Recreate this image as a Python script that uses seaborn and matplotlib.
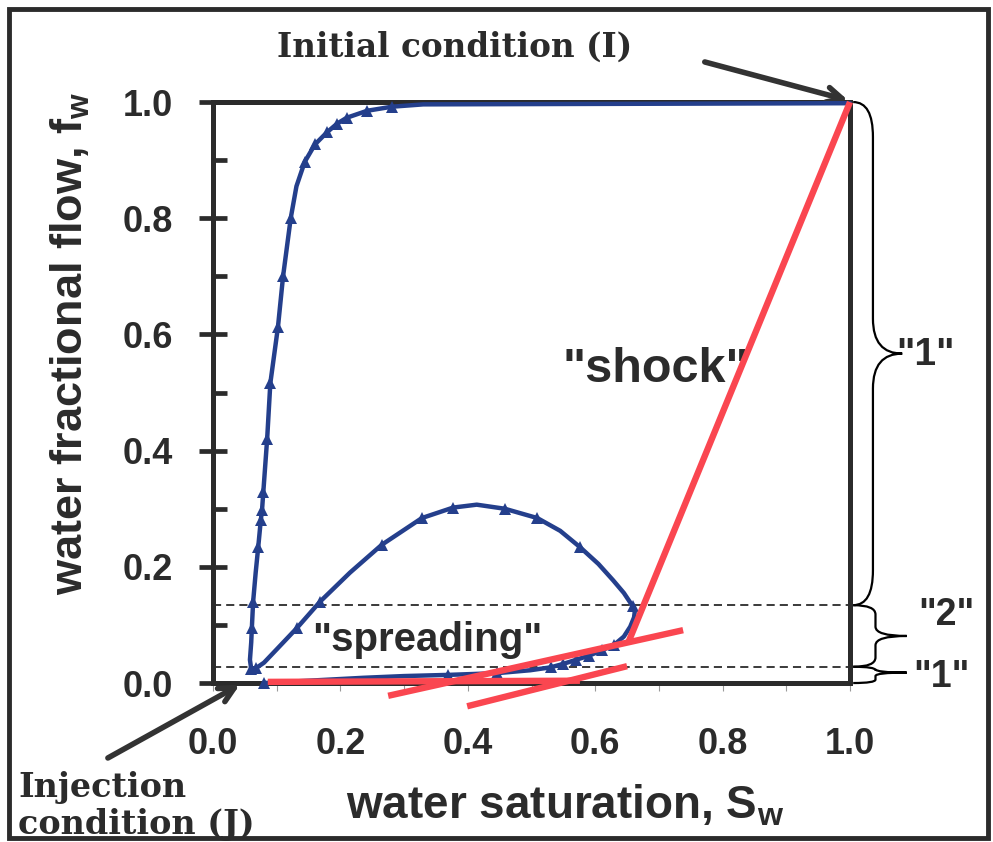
import matplotlib
matplotlib.use("Agg")
import matplotlib.pyplot as plt
import numpy as np
import pandas as pd
import seaborn as sns
from matplotlib.path import Path
from matplotlib.patches import PathPatch, Rectangle

# Composition path in (Sw, fw): from the injection state along the bottom,
# around the loop, back to the near-origin cluster, up the steep branch to the top.
sw_path = [0.080, 0.150, 0.236, 0.300, 0.369, 0.446, 0.498, 0.530, 0.550, 0.570,
           0.590, 0.610, 0.630, 0.645, 0.655, 0.661, 0.662, 0.659, 0.645, 0.628,
           0.605, 0.576, 0.545, 0.509, 0.458, 0.414, 0.377, 0.328, 0.265, 0.215,
           0.168, 0.132, 0.100, 0.080, 0.068, 0.060, 0.058, 0.060, 0.061, 0.063,
           0.067, 0.071, 0.075, 0.077, 0.079, 0.085, 0.090, 0.102, 0.110, 0.122,
           0.131, 0.144, 0.160, 0.179, 0.195, 0.210, 0.242, 0.281, 0.330, 1.000]
fw_path = [0.000, 0.004, 0.009, 0.012, 0.014, 0.017, 0.022, 0.027, 0.033, 0.040,
           0.047, 0.056, 0.066, 0.080, 0.097, 0.113, 0.122, 0.132, 0.155, 0.177,
           0.205, 0.234, 0.262, 0.284, 0.300, 0.307, 0.302, 0.284, 0.238, 0.190,
           0.140, 0.095, 0.058, 0.035, 0.026, 0.024, 0.040, 0.070, 0.095, 0.140,
           0.190, 0.234, 0.280, 0.298, 0.329, 0.420, 0.516, 0.613, 0.700, 0.800,
           0.855, 0.897, 0.927, 0.948, 0.963, 0.973, 0.985, 0.992, 0.996, 0.998]
# 1 where a triangle marker sits on the path
marked = [1, 0, 0, 0, 1, 1, 0, 1, 1, 1,
          1, 1, 1, 0, 0, 0, 0, 1, 0, 0,
          0, 1, 0, 1, 1, 0, 1, 1, 1, 0,
          1, 1, 0, 0, 1, 1, 0, 0, 1, 1,
          0, 1, 1, 1, 1, 1, 1, 1, 1, 1,
          0, 1, 1, 1, 1, 1, 1, 1, 0, 0]

# Red construction lines: shock and tangents
shock_sw = [0.652, 1.000]
shock_fw = [0.070, 1.000]
tangent_a_sw = [0.275, 0.738]
tangent_a_fw = [-0.022, 0.091]
tangent_b_sw = [0.399, 0.650]
tangent_b_fw = [-0.040, 0.029]
flat_sw = [0.086, 0.576]
flat_fw = [0.002, 0.004]

dash_levels = [0.134, 0.028]

x_ticks = [0.0, 0.2, 0.4, 0.6, 0.8, 1.0]
y_ticks = [0.0, 0.2, 0.4, 0.6, 0.8, 1.0]
tick_labels = ["0.0", "0.2", "0.4", "0.6", "0.8", "1.0"]

BLUE = "#243f8c"
RED = "#fa4650"
DARK = "#2b2b2b"

sns.set_theme(style="white")
plt.rcParams["font.family"] = ["Liberation Sans", "DejaVu Sans"]
plt.rcParams["mathtext.fontset"] = "custom"
plt.rcParams["mathtext.bf"] = "Liberation Sans:bold"
plt.rcParams["mathtext.rm"] = "Liberation Sans:bold"

fig = plt.figure(figsize=(9.93, 8.42), dpi=100)
ax = fig.add_axes([0.2145, 0.1888, 0.6415, 0.690])
ax.set_xlim(0, 1)
ax.set_ylim(0, 1)

path_df = pd.DataFrame({"sw": sw_path, "fw": fw_path})
sns.lineplot(data=path_df, x="sw", y="fw", sort=False, estimator=None, ax=ax,
             color=BLUE, lw=3.2, marker="^", markersize=8, markeredgewidth=0,
             markevery=[bool(m) for m in marked], zorder=4, clip_on=False)

for xs, ys in [(shock_sw, shock_fw), (tangent_a_sw, tangent_a_fw),
               (tangent_b_sw, tangent_b_fw), (flat_sw, flat_fw)]:
    sns.lineplot(x=xs, y=ys, sort=False, estimator=None, ax=ax, color=RED,
                 lw=4.6, zorder=5, clip_on=False, solid_capstyle="butt")

for lvl in dash_levels:
    ax.plot([0, 1.005], [lvl, lvl], color=DARK, lw=1.3, dashes=(4.5, 2.8),
            zorder=2, clip_on=False)

# Spines and ticks
for s in ax.spines.values():
    s.set_color(DARK)
    s.set_linewidth(3.6)
    s.set_visible(True)

ax.set_xticks(x_ticks)
ax.set_xticklabels(tick_labels)
ax.set_yticks(y_ticks)
ax.set_yticklabels(tick_labels)
ax.set_yticks(np.array([0.1, 0.3, 0.5, 0.7, 0.9]), minor=True)
ax.set_xticks(np.array([0.1, 0.3, 0.5, 0.7, 0.9]), minor=True)
ax.tick_params(axis="y", which="major", direction="inout", length=19.5, width=3.4,
               color=DARK, pad=19, labelsize=26, left=True)
ax.tick_params(axis="y", which="minor", direction="in", length=10, width=3.4,
               color=DARK, left=True)
ax.tick_params(axis="x", which="both", direction="out", length=6, width=0.8,
               color="#9a9a9a", pad=26, labelsize=26, bottom=True)
for lab in ax.get_xticklabels() + ax.get_yticklabels():
    lab.set_fontweight("bold")
    lab.set_color(DARK)

ax.set_xlabel(r"water saturation, S$_\mathbf{w}$", fontsize=33,
              fontweight="bold", color=DARK)
ax.xaxis.set_label_coords(0.553, -0.172)
ax.set_ylabel(r"water fractional flow, f$_\mathbf{w}$", fontsize=32.5,
              fontweight="bold", color=DARK)
ax.yaxis.set_label_coords(-0.19, 0.585)


def brace(x0, x1, x2, y0, y1, ym, r):
    verts = [(x0, y1), (x1, y1), (x1, y1 - r),
             (x1, ym + r), (x1, ym), (x2, ym),
             (x1, ym), (x1, ym - r),
             (x1, y0 + r), (x1, y0), (x0, y0)]
    codes = [Path.MOVETO, Path.CURVE3, Path.CURVE3,
             Path.LINETO, Path.CURVE3, Path.CURVE3,
             Path.CURVE3, Path.CURVE3,
             Path.LINETO, Path.CURVE3, Path.CURVE3]
    ax.add_patch(PathPatch(Path(verts, codes), fill=False, lw=1.6,
                           edgecolor="black", clip_on=False, zorder=3))


brace(1.005, 1.036, 1.082, 0.134, 1.0, 0.567, 0.06)
brace(1.005, 1.040, 1.089, 0.028, 0.134, 0.081, 0.016)
brace(1.005, 1.040, 1.089, 0.0, 0.028, 0.018, 0.006)

txt = dict(fontweight="bold", color=DARK, ha="center", va="center", clip_on=False)
ax.text(1.118, 0.565, '"1"', fontsize=28, **txt)
ax.text(1.151, 0.117, '"2"', fontsize=27, **txt)
ax.text(1.143, 0.010, '"1"', fontsize=27, **txt)
ax.text(0.695, 0.539, '"shock"', fontsize=35, **txt)
ax.text(0.336, 0.074, '"spreading"', fontsize=29, **txt)

serif = dict(family="DejaVu Serif", fontweight="bold", color=DARK)
fig.text(455 / 993, 1 - 47 / 842, "Initial condition (I)", fontsize=23.5,
         ha="center", va="center", **serif)
fig.text(18 / 993, 1 - 806 / 842, "Injection\ncondition (J)", fontsize=24,
         ha="left", va="center", linespacing=1.12, **serif)

arrow = dict(arrowstyle="->,head_length=0.9,head_width=0.45", lw=4, color="#333333",
             shrinkA=0, shrinkB=0)
ax.annotate("", xy=(0.997, 1.003), xytext=(0.772, 1.069), arrowprops=arrow,
            annotation_clip=False)
ax.annotate("", xy=(0.042, -0.003), xytext=(-0.165, -0.129), arrowprops=arrow,
            annotation_clip=False)

fig.patches.append(Rectangle((9 / 993, 4 / 842), 979 / 993, 829 / 842,
                             transform=fig.transFigure, fill=False,
                             edgecolor=DARK, lw=3.5))

fig.savefig("out.png", dpi=100)
